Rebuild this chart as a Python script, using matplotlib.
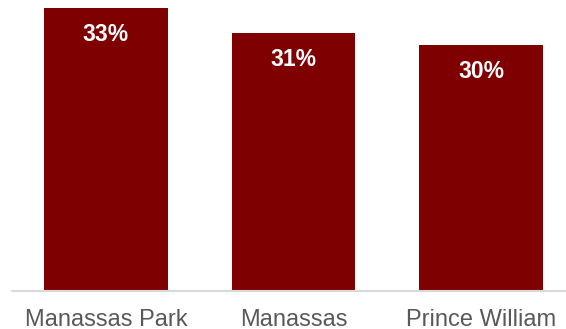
import matplotlib
matplotlib.use("Agg")
import matplotlib.pyplot as plt

categories = ["Manassas Park", "Manassas", "Prince William"]
values = [33, 31, 30]
labels = ["33%", "31%", "30%"]

BAR = "#7f0000"
AXIS = "#d9d9d9"
TEXT = "#595959"

plt.rcParams["font.family"] = ["Liberation Sans", "DejaVu Sans"]

fig = plt.figure(figsize=(5.66, 3.29), dpi=100)
ax = fig.add_axes([12 / 566, 38 / 329, 554 / 566, 291 / 329])

x = range(len(categories))
bars = ax.bar(x, values, width=0.66, color=BAR)

for rect, lab in zip(bars, labels):
    ax.annotate(lab, (rect.get_x() + rect.get_width() / 2, rect.get_height()),
                xytext=(0, -27 * 0.72), textcoords="offset points",
                ha="center", va="center", color="white",
                fontsize=16.5, fontweight="bold")

ax.set_xlim(-0.5, 2.452)
ax.set_ylim(10, 33.65)
ax.set_xticks(list(x))
ax.set_xticklabels(categories, fontsize=17, color=TEXT)
ax.tick_params(axis="x", length=0, pad=13)
ax.set_yticks([])
for side in ("top", "left", "right"):
    ax.spines[side].set_visible(False)
ax.spines["bottom"].set_color(AXIS)
ax.spines["bottom"].set_linewidth(1.5)

fig.savefig("out.png", dpi=100)
